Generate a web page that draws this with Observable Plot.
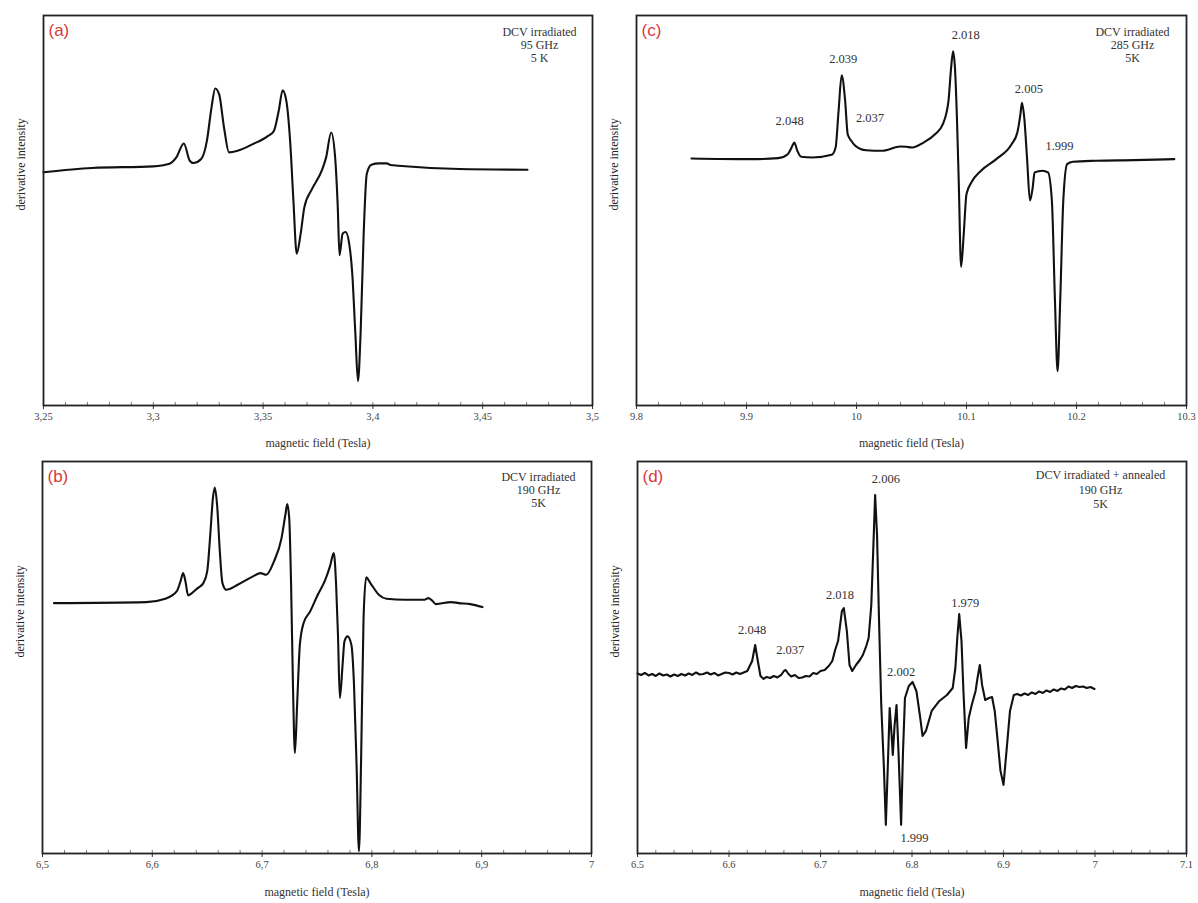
<!DOCTYPE html>
<html><head><meta charset="utf-8">
<script src="https://cdn.jsdelivr.net/npm/d3@7"></script>
<script src="https://cdn.jsdelivr.net/npm/@observablehq/plot@0.6"></script>
<style>
body{margin:0;background:#fff;}
#wrap{position:relative;width:1198px;height:903px;background:#fff;}
.panel{position:absolute;}
</style></head><body><div id="wrap"></div>
<script>
// ---------- Panel (a): 95 GHz ----------
const aField = [3.25,3.2721,3.3,3.307,3.3105,3.3139,3.3166,3.3183,3.3218,3.3244,3.3265,3.3282,3.33,3.3322,3.3345,3.3383,3.3453,3.3523,3.3549,3.3571,3.3589,3.3606,3.3624,3.3638,3.3653,3.3671,3.3688,3.3723,3.3767,3.3787,3.381,3.3828,3.384,3.3848,3.3862,3.3876,3.3892,3.3906,3.392,3.3932,3.3944,3.3958,3.3972,3.3993,3.4028,3.4063,3.408,3.4115,3.4394,3.4704];
const aIntensity = [-3.3,1,2.7,5,11.7,25.7,8.3,6,10,28.3,61.7,81,75,41.7,16.7,18.3,25,33.3,38.3,58.3,79,68.3,25,-31.7,-85,-65,-38.3,-20,-1.7,11.7,36.7,11.7,-38.3,-86.7,-65,-63.3,-75,-105,-165,-213.3,-165,-65,-5,4.3,5.7,5.7,4,3.3,0,-0.7];
const aTicks = [3.25,3.3,3.35,3.4,3.45,3.5];
const aTickLabels = ["3,25","3,3","3,35","3,4","3,45","3,5"];
const aCond = ["DCV irradiated","95 GHz","5 K"];

// ---------- Panel (c): 285 GHz ----------
const cField = [9.85,9.9044,9.9288,9.9375,9.941,9.9434,9.9462,9.9497,9.96,9.9775,9.981,9.9837,9.9865,9.9897,9.992,9.9949,9.999,10.0088,10.0227,10.04,10.0452,10.0506,10.061,10.0714,10.0784,10.0836,10.086,10.0878,10.0895,10.0913,10.093,10.0951,10.0975,10.1,10.1045,10.1132,10.1271,10.141,10.1462,10.149,10.1504,10.1525,10.155,10.1577,10.1602,10.1619,10.1689,10.1741,10.1776,10.1804,10.1828,10.1852,10.188,10.1915,10.1967,10.2176,10.2524,10.2889];
const cIntensity = [-1,-1.7,-0.7,3.3,10,15,6.7,0.7,0,2.7,10,46.7,82.7,56.7,23.3,17.3,11.7,7.3,6.7,11,10.7,10,15,23.3,33.3,56.7,90,106.7,90,40,-26.7,-110,-76.7,-36.7,-25,-13.3,-1.7,13.3,25,43.3,55,40,0,-43.3,-30,-15,-13.3,-15,-43.3,-143.3,-215,-143.3,-43.3,-6.7,-4.3,-3.3,-2.7,-1.7];
const cTicks = [9.8,9.9,10,10.1,10.2,10.3];
const cTickLabels = ["9.8","9.9","10","10.1","10.2","10.3"];
const cCond = ["DCV irradiated","285 GHz","5K"];
const cPeakLabels = ["2.048","2.039","2.037","2.018","2.005","1.999"];
const cPeakX = [9.9392,9.988,10.0123,10.0993,10.1567,10.1845];
const cPeakY = [36.7,99.3,39.3,122.7,69.3,11.7];

// ---------- Panel (b): 190 GHz ----------
const bField = [6.5104,6.5944,6.6118,6.6222,6.6257,6.6281,6.6302,6.6326,6.6361,6.6413,6.6465,6.65,6.6528,6.6552,6.6569,6.659,6.6615,6.6639,6.6674,6.6778,6.6917,6.6986,6.7038,6.7108,6.7177,6.7212,6.7229,6.7247,6.7264,6.7281,6.7299,6.7319,6.7344,6.7378,6.7438,6.7507,6.7576,6.7618,6.7653,6.7674,6.7691,6.7708,6.7733,6.775,6.7778,6.7813,6.7837,6.7861,6.7882,6.7903,6.7924,6.7948,6.7986,6.8063,6.8132,6.8306,6.8479,6.8514,6.8549,6.8583,6.8722,6.8792,6.8896,6.9007];
const bIntensity = [-0.7,0.3,3.7,11,21,29.3,21,7,9.3,14.3,19.3,31,67.7,104.3,115,97.7,51,19.3,12.7,17.7,26,29.3,27.7,41,64.3,87.7,98.3,84.3,17.7,-82.3,-150.7,-102.3,-42.3,-20.7,-9,7.7,22.7,36,49.3,17.7,-32.3,-95.7,-62.3,-39,-34,-42.3,-82.3,-165.7,-249,-149,-15.7,25,19.3,7.7,3.7,2.7,2.7,4.3,1.7,-1.7,0.3,-0.7,-1.7,-4.7];
const bTicks = [6.5,6.6,6.7,6.8,6.9,7];
const bTickLabels = ["6,5","6,6","6,7","6,8","6,9","7"];
const bCond = ["DCV irradiated","190 GHz","5K"];

// ---------- Panel (d): 190 GHz, irradiated + annealed ----------
const dField = [6.500,6.504,6.508,6.512,6.516,6.520,6.524,6.528,6.532,6.536,
6.540,6.544,6.548,6.552,6.556,6.560,6.564,6.568,6.572,6.576,
6.580,6.584,6.588,6.592,6.596,6.600,6.604,6.608,6.612,6.616,
6.620,6.6253,6.6286,6.6315,6.6344,6.6378,6.641,6.645,6.649,6.653,
6.657,6.660,6.662,6.665,6.668,6.672,6.676,6.680,6.684,6.688,
6.692,6.696,6.700,6.7046,6.709,6.7129,6.716,6.7192,6.7234,6.7255,
6.7288,6.7317,6.7347,6.7388,6.743,6.7463,6.750,6.7526,6.7555,6.7576,
6.7597,6.7618,6.7639,6.7664,6.7693,6.7714,6.7735,6.7756,6.7777,6.779,
6.781,6.7831,6.7852,6.7881,6.7902,6.7923,6.7965,6.8006,6.8048,6.809,
6.8115,6.8152,6.8215,6.8299,6.8382,6.8445,6.8474,6.8495,6.8516,6.8541,
6.8562,6.8591,6.862,6.8653,6.8695,6.8716,6.8741,6.8766,6.88,6.8841,
6.8875,6.8904,6.8933,6.8967,6.9,6.9033,6.9071,6.9113,6.915,6.919,
6.923,6.927,6.931,6.935,6.939,6.943,6.947,6.951,6.955,6.959,
6.963,6.967,6.971,6.975,6.979,6.983,6.987,6.991,6.995,6.9994];
const dIntensity = [0.5,-1,1,-1.5,0,-2,0.5,-1.5,-0.5,-2.5,
-0.5,-2,0,-1.5,0.5,-1,1.5,-0.5,0,1.5,
-0.5,1,-1.5,0,1.5,1,-0.5,1.5,0,1.5,
3,13,29,13,-2,-5,-3,-4,-2,-3.5,
-1,3,4,0,-2.5,-1,-4,-3.5,-2,-2.5,
1,0,3,4,8,13,24,33,63,66,
43,9,3,9,14,19,28,36,69,123,
179,139,56,-31,-94,-151,-94,-34,-61,-81,
-51,-31,-77,-151,-77,-24,-12,-8,-17,-44,
-62,-57,-37,-27,-21,-14,6,36,60,33,
-17,-74,-44,-31,-17,-4,9,-11,-26,-24,
-23,-37,-64,-97,-111,-77,-37,-21,-20,-21.5,
-19.5,-21,-18.5,-20,-17.5,-19,-16.5,-18,-15.5,-17,
-14.5,-15.5,-12.5,-14,-12,-13,-12.5,-14,-13,-15];
const dTicks = [6.5,6.6,6.7,6.8,6.9,7,7.1];
const dTickLabels = ["6.5","6.6","6.7","6.8","6.9","7","7.1"];
const dCond = ["DCV irradiated + annealed","190 GHz","5K"];
const dPeakLabels = ["2.048","2.037","2.018","2.006","2.002","1.999","1.979"];
const dPeakX = [6.6253,6.667,6.7213,6.7714,6.7881,6.8027,6.8582];
const dPeakY = [44.3,24.3,78.7,195.3,2,-164,71];

const SERIF = "'Liberation Serif','Times New Roman',serif";
const SANS = "'Liberation Sans',Arial,sans-serif";

function panel(p) {
  const data = p.field.map((x, i) => ({x, y: p.intensity[i]}));
  const peaks = (p.peakLabels || []).map((t, i) => ({t, x: p.peakX[i], y: p.peakY[i]}));
  const labelMap = new Map(p.ticks.map((t, i) => [t, p.tickLabels[i]]));
  const minor = d3.range(Math.round((p.xDomain[1] - p.xDomain[0]) / p.minorStep) + 1)
    .map(i => +(p.xDomain[0] + i * p.minorStep).toFixed(4));
  const chart = Plot.plot({
    width: p.w, height: p.h,
    marginLeft: p.ml, marginRight: p.mr, marginTop: p.mt, marginBottom: p.mb,
    style: {fontFamily: SERIF, background: "transparent", overflow: "visible"},
    x: {domain: p.xDomain, label: null},
    y: {domain: p.yDomain, label: null, axis: null},
    marks: [
      Plot.axisX(minor, {tickSize: -3, tickFormat: () => "", stroke: "#777", label: null}),
      Plot.axisX(p.ticks, {tickSize: 4, tickPadding: 3, tickFormat: d => labelMap.get(d), fontSize: 10.5, fill: "#444", stroke: "#333", label: null}),
      Plot.line(data, {x: "x", y: "y", curve: p.curve, stroke: "#111", strokeWidth: 2.1, strokeLinejoin: "round"}),
      Plot.frame({stroke: "#222", strokeWidth: 1.8}),
      Plot.text(peaks, {x: "x", y: "y", text: "t", fontSize: 12.5, fill: "#333", fontFamily: SERIF}),
      Plot.text([p.letter], {frameAnchor: "top-left", dx: 5, dy: 8, textAnchor: "start", lineAnchor: "top", fill: "#d8383a", fontSize: 17, fontFamily: SANS}),
      Plot.text([p.cond.join("\n")], {frameAnchor: "top-right", textAnchor: "middle", lineAnchor: "top", dx: p.condDx, dy: p.condDy, fontSize: 12, lineHeight: p.condLH, fill: "#333", fontFamily: SERIF}),
      Plot.text(["magnetic field (Tesla)"], {frameAnchor: "bottom", dy: p.xlabDy, fontSize: 12, fill: "#333", fontFamily: SERIF}),
      Plot.text(["derivative intensity"], {frameAnchor: "left", rotate: -90, dx: -22, fontSize: 12, fill: "#222", fontFamily: SERIF})
    ]
  });
  const div = document.createElement("div");
  div.className = "panel";
  div.style.left = p.left + "px";
  div.style.top = p.top + "px";
  div.appendChild(chart);
  document.getElementById("wrap").appendChild(div);
}

panel({letter: "(a)", field: aField, intensity: aIntensity, ticks: aTicks, tickLabels: aTickLabels, cond: aCond,
  xDomain: [3.25, 3.5], yDomain: [-237.7, 154.3], minorStep: 0.01, curve: "monotone-x",
  left: 0, top: 0, w: 598, h: 450, ml: 43, mr: 6, mt: 15, mb: 45,
  condDx: -53, condDy: 11, condLH: 1.08, xlabDy: 41});
panel({letter: "(c)", field: cField, intensity: cIntensity, ticks: cTicks, tickLabels: cTickLabels, cond: cCond,
  peakLabels: cPeakLabels, peakX: cPeakX, peakY: cPeakY, curve: "monotone-x",
  xDomain: [9.8, 10.3], yDomain: [-249.3, 142.7], minorStep: 0.02,
  left: 598, top: 0, w: 600, h: 450, ml: 38, mr: 12, mt: 15, mb: 45,
  condDx: -54, condDy: 11, condLH: 1.08, xlabDy: 41});
panel({letter: "(b)", field: bField, intensity: bIntensity, ticks: bTicks, tickLabels: bTickLabels, cond: bCond,
  xDomain: [6.5, 7], yDomain: [-251.3, 141], minorStep: 0.02, curve: "monotone-x",
  left: 0, top: 450, w: 598, h: 453, ml: 42, mr: 7, mt: 11, mb: 50,
  condDx: -53, condDy: 10, condLH: 1.08, xlabDy: 42});
panel({letter: "(d)", field: dField, intensity: dIntensity, ticks: dTicks, tickLabels: dTickLabels, cond: dCond,
  peakLabels: dPeakLabels, peakX: dPeakX, peakY: dPeakY, curve: "linear",
  xDomain: [6.5, 7.1], yDomain: [-179.7, 212.7], minorStep: 0.02,
  left: 598, top: 450, w: 600, h: 453, ml: 39, mr: 12, mt: 11, mb: 50,
  condDx: -86, condDy: 8, condLH: 1.17, xlabDy: 42});
</script>
</body></html>
